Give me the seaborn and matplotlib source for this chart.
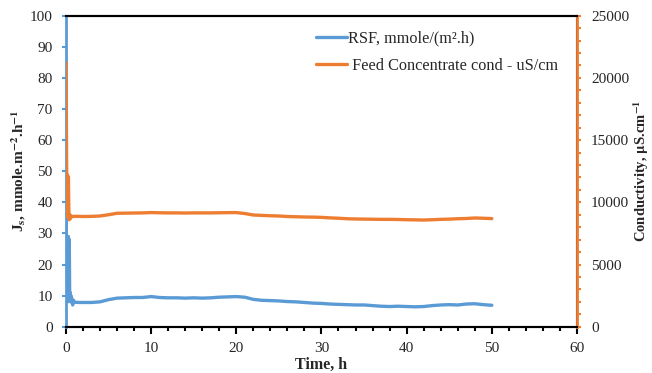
import pandas as pd
import matplotlib.pyplot as plt
from matplotlib.ticker import MultipleLocator
import seaborn as sns

# Data
time_h = [0, 0.05, 0.1, 0.15, 0.2, 0.25, 0.3, 0.35, 0.4, 0.45, 0.5, 0.55, 0.6, 0.7,
          0.8, 0.9, 1.0, 1.5, 2, 3, 4, 5, 6, 7, 8, 9, 10, 11, 12, 13, 14, 15, 16,
          17, 18, 19, 20, 21, 22, 23, 24, 25, 26, 27, 28, 29, 30, 31, 32, 33, 34,
          35, 36, 37, 38, 39, 40, 41, 42, 43, 44, 45, 46, 47, 48, 49, 50]
rsf = [40, 30, 18, 10, 8, 12, 29, 9, 28, 10, 11, 8, 10, 9,
       7, 8.5, 7.9, 7.8, 7.8, 7.8, 8.0, 8.7, 9.2, 9.3, 9.4, 9.4, 9.7, 9.4, 9.3, 9.3, 9.2, 9.3, 9.2,
       9.3, 9.5, 9.6, 9.7, 9.5, 8.8, 8.5, 8.4, 8.3, 8.1, 8.0, 7.8, 7.6, 7.5, 7.3, 7.2, 7.1, 7.0,
       7.0, 6.8, 6.6, 6.5, 6.6, 6.5, 6.4, 6.5, 6.8, 7.0, 7.1, 7.0, 7.3, 7.4, 7.1, 6.9]
conductivity = [21200, 17700, 12000, 9000, 12200, 8800, 12000, 9300, 8600, 9000, 8900, 8700, 8900, 8850,
                8870, 8860, 8875, 8870, 8860, 8870, 8900, 9000, 9120, 9130, 9140, 9150, 9175, 9160, 9150, 9150, 9140, 9150, 9150,
                9150, 9160, 9170, 9175, 9100, 8980, 8950, 8920, 8900, 8860, 8840, 8820, 8810, 8790, 8750, 8720, 8680, 8660,
                8650, 8640, 8630, 8630, 8620, 8600, 8590, 8575, 8600, 8630, 8650, 8680, 8700, 8740, 8720, 8690]

blue = '#5B9BD5'
orange = '#ED7D31'

df = pd.DataFrame({'Time': time_h, 'RSF': rsf, 'Cond': conductivity})

sns.set_theme(style="white")
plt.rcParams['font.family'] = ['Liberation Serif', 'DejaVu Serif']
plt.rcParams['mathtext.fontset'] = 'stix'

fig = plt.figure(figsize=(6.52, 3.73), dpi=100)
ax = fig.add_axes([0.101, 0.124, 0.784, 0.834])
ax2 = ax.twinx()

sns.lineplot(data=df, x='Time', y='RSF', ax=ax, color=blue, linewidth=2.4,
             label='RSF, mmole/(m\u00b2.h)', legend=False)
sns.lineplot(data=df, x='Time', y='Cond', ax=ax2, color=orange, linewidth=2.4,
             label=' Feed Concentrate cond - uS/cm', legend=False)

ax.set_xlim(0, 60)
ax.set_ylim(0, 100)
ax2.set_ylim(0, 25000)
ax.xaxis.set_major_locator(MultipleLocator(10))
ax.xaxis.set_minor_locator(MultipleLocator(2))
ax.yaxis.set_major_locator(MultipleLocator(10))
ax2.yaxis.set_major_locator(MultipleLocator(5000))
ax2.yaxis.set_minor_locator(MultipleLocator(1000))

for a in (ax, ax2):
    for s in a.spines.values():
        s.set_color('black')
        s.set_linewidth(1.5)
ax.spines['left'].set_color(blue)
ax.spines['left'].set_linewidth(2)
ax2.spines['right'].set_color(orange)
ax2.spines['right'].set_linewidth(2)
ax2.spines['left'].set_visible(False)

ax.tick_params(axis='x', which='major', direction='out', length=5, width=1.5, color='black',
               labelsize=11, bottom=True, pad=6)
ax.tick_params(axis='x', which='minor', direction='out', length=3, width=1.5, color='black', bottom=True)
ax.tick_params(axis='y', which='major', direction='out', length=3, width=1.5, color=blue,
               labelsize=11, left=True, pad=6.5)
ax2.tick_params(axis='y', which='major', direction='out', length=3, width=1.5, color=orange,
                labelsize=11, right=True, pad=7)
ax2.tick_params(axis='y', which='minor', direction='out', length=3, width=1.5, color=orange, right=True)

ax.set_xlabel('Time, h', fontsize=11.5, fontweight='bold', labelpad=1)
ax.set_ylabel(r'J$_\mathbf{s}$, mmole.m$^\mathbf{-2}$.h$^\mathbf{-1}$', fontsize=11,
              fontweight='bold', labelpad=1)
ax2.set_ylabel(r'Conductivity, $\mathbf{\mu}$S.cm$^\mathbf{-1}$', fontsize=10.5,
               fontweight='bold', labelpad=1.5)

h1, l1 = ax.get_legend_handles_labels()
h2, l2 = ax2.get_legend_handles_labels()
fig.legend(h1 + h2, l1 + l2, loc='upper left', bbox_to_anchor=(0.462, 0.958),
           frameon=False, fontsize=11.7, handlelength=1.9, handletextpad=0.1,
           labelspacing=0.72)

plt.savefig('out.png', dpi=100)
